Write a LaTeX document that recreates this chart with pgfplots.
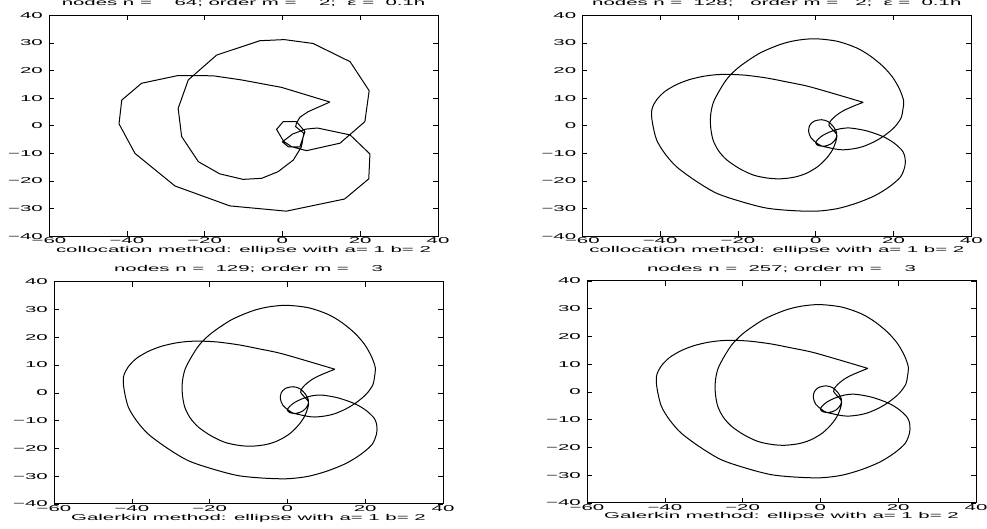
\documentclass[border=0pt]{standalone}
\usepackage{fontspec}
\setmainfont{Liberation Sans}
\newfontfamily\wide[FakeStretch=2.4]{Liberation Sans}
\usepackage{pgfplots}
\usepackage{pgfplotstable}
\pgfplotsset{compat=1.18}

\pgfplotstableread{
x y
12.2 8.6
-0.2 13.9
-10.5 16.6
-17.8 18.1
-26.8 18.2
-36.2 15.4
-41.3 9.3
-42.0 0.7
-37.9 -10.0
-27.6 -21.8
-13.5 -29.0
1.0 -30.9
16.0 -26.5
22.2 -19.2
22.5 -10.2
17.4 -3.3
9.0 -0.8
6.0 -1.2
2.6 -3.0
0.0 -5.8
1.5 -7.6
4.5 -7.6
5.8 -2.1
3.6 1.5
0.2 1.5
-1.5 -1.3
0.3 -5.6
2.4 -7.6
6.2 -9.0
14.8 -6.3
21.2 1.5
22.3 12.7
17.4 23.2
7.9 29.8
0.5 31.2
-5.8 30.8
-16.9 25.6
-24.2 16.6
-26.8 6.3
-25.9 -3.9
-21.6 -13.0
-16.1 -17.4
-10.1 -19.4
-5.3 -19.0
-1.1 -16.6
2.8 -12.4
4.9 -7.6
5.5 -2.7
3.4 -0.3
3.6 0.9
4.5 3.1
6.6 5.1
12.2 8.6
}\coarsecurve

\pgfplotstableread{
x y
12.2 8.5
5.0 11.5
-2.0 14.3
-7.5 15.9
-12.6 17.3
-18.0 18.3
-22.1 18.6
-25.5 18.5
-28.9 17.9
-32.5 16.7
-35.8 14.9
-38.8 12.4
-40.9 9.4
-42.0 6.5
-42.2 4.0
-41.9 0.5
-40.9 -5.1
-38.8 -10.0
-35.8 -14.8
-31.0 -19.8
-25.5 -24.4
-19.0 -27.5
-12.6 -29.8
-6.0 -30.7
0.2 -30.9
5.5 -30.0
10.5 -28.0
15.2 -25.3
19.0 -22.0
21.8 -18.5
22.9 -14.8
23.0 -12.0
22.4 -9.3
20.2 -6.3
17.3 -3.9
13.0 -1.8
8.8 -0.8
6.2 -1.1
4.5 -1.8
3.5 -2.3
1.8 -3.5
0.5 -5.0
0.0 -6.2
0.6 -7.1
2.2 -7.4
4.0 -6.5
5.2 -4.6
5.4 -2.6
4.6 -0.4
3.2 1.5
1.5 2.2
-0.5 1.6
-1.6 0.0
-1.8 -2.2
-1.2 -4.4
0.2 -6.2
1.5 -7.3
3.0 -7.8
5.0 -8.4
7.0 -8.7
9.8 -8.3
12.2 -7.5
15.0 -5.8
17.3 -3.9
19.5 -1.5
20.8 0.4
22.0 3.0
22.4 5.8
22.6 9.0
21.6 13.1
19.8 17.5
17.3 21.5
14.0 25.3
10.5 28.2
5.5 30.6
-0.2 31.5
-5.0 30.9
-9.2 29.4
-14.5 26.2
-19.5 21.5
-22.5 17.5
-24.6 13.1
-26.3 8.5
-27.0 4.0
-27.0 -0.5
-26.4 -5.1
-25.0 -9.0
-22.9 -12.3
-19.7 -15.4
-16.1 -17.8
-12.5 -18.9
-9.2 -19.2
-5.5 -18.6
-2.4 -17.2
0.5 -14.8
2.8 -11.7
4.4 -8.5
5.3 -5.1
5.4 -3.2
4.6 -1.8
3.8 -0.6
3.4 0.2
3.7 1.5
4.5 2.8
5.7 4.2
7.3 5.6
9.7 7.1
12.2 8.5
}\smoothcurve

\newcommand{\tf}{\wide\fontsize{8.5}{10}\selectfont}

\pgfplotsset{panel/.style={
  scale only axis, width=389pt, height=221pt,
  anchor=south west,
  xmin=-60, xmax=40, ymin=-40, ymax=40,
  xtick={-60,-40,-20,0,20,40},
  ytick={-40,-30,-20,-10,0,10,20,30,40},
  xticklabels={−60,−40,−20,0,20,40},
  yticklabels={−40,−30,−20,−10,0,10,20,30,40},
  tick align=inside, major tick length=5pt,
  tick style={black, line width=0.6pt},
  axis line style={black, line width=1pt},
  ticklabel style={font=\tf},
  xticklabel style={anchor=north, inner sep=0pt, yshift=-1.5pt},
  yticklabel style={anchor=east, inner sep=0pt, xshift=-6pt},
  title style={at={(axis description cs:0.5,1.017)}, anchor=base, inner sep=0pt, font=\tf},
  xlabel style={at={(axis description cs:0.5,-0.072)}, anchor=base, inner sep=0pt, font=\tf},
  clip=false,
}}

\begin{document}
\begin{tikzpicture}
\useasboundingbox (0pt,0pt) rectangle (987pt,529pt);

\begin{axis}[panel, at={(49pt,292.7pt)},
  title={nodes n =\ \ \ \ 64;\ order m =\ \ \ \ 2;\ \ ε =\ \ 0.1h},
  xlabel={collocation method: ellipse with a= 1 b= 2}]
\addplot[black, line width=1pt, line join=round] table {\coarsecurve};
\end{axis}

\begin{axis}[panel, at={(582.3pt,292.7pt)},
  title={nodes n =\ \ 128;\ \ \ order m =\ \ \ 2;\ \ ε =\ \ 0.1h},
  xlabel={collocation method: ellipse with a= 1 b= 2}]
\addplot[black, line width=1pt, smooth, line join=round] table {\smoothcurve};
\end{axis}

\begin{axis}[panel, at={(54pt,25pt)}, height=222.3pt,
  title={nodes n =\ \ 129;\ order m =\ \ \ \ 3},
  xlabel={Galerkin method: ellipse with a= 1 b= 2}]
\addplot[black, line width=1pt, smooth, line join=round] table {\smoothcurve};
\end{axis}

\begin{axis}[panel, at={(587pt,26pt)}, height=222pt,
  title={nodes n =\ \ 257;\ order m =\ \ \ \ 3},
  xlabel={Galerkin method: ellipse with a= 1 b= 2}]
\addplot[black, line width=1pt, smooth, line join=round] table {\smoothcurve};
\end{axis}
\end{tikzpicture}
\end{document}
